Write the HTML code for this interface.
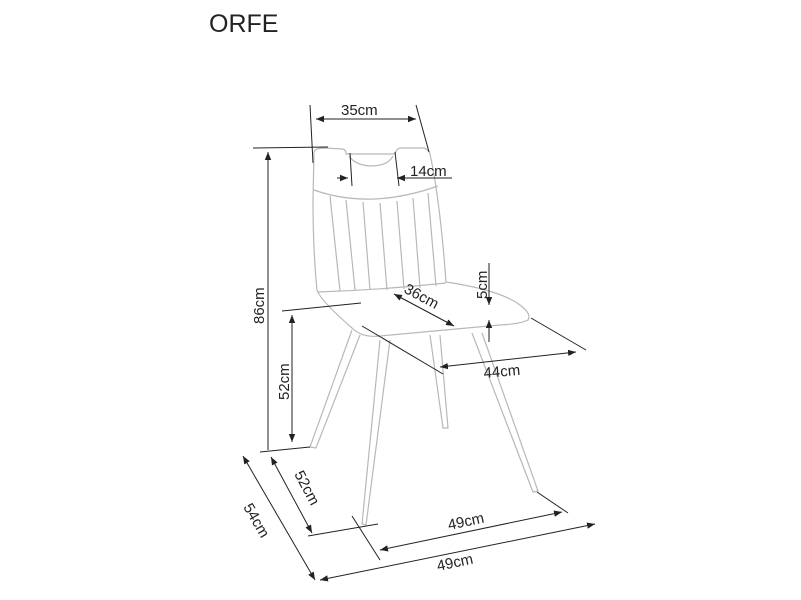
<!DOCTYPE html>
<html><head><meta charset="utf-8"><style>
html,body{margin:0;padding:0;background:#fff;}
svg{display:block;}
text{font-family:"Liberation Sans",sans-serif;fill:#222;}
</style></head><body>
<svg width="801" height="600" viewBox="0 0 801 600" xmlns="http://www.w3.org/2000/svg">
<defs>
<marker id="a" viewBox="0 0 10 10" refX="10" refY="5" markerWidth="8" markerHeight="8" orient="auto-start-reverse" markerUnits="userSpaceOnUse"><path d="M0,1 L10,5 L0,9 Z" fill="#222"/></marker>
</defs>
<text x="209" y="32" font-size="25">ORFE</text>
<g fill="none" stroke="#b8b8b8" stroke-width="1.2">
<path d="M314,152 Q315,148 325,148 L343,149 Q346,150 346,154 L395,154 Q396,149 400,148 L424,148 Q428,149 430,154 Q440,200 446,282 Q500,290 520,305 Q532,314 528,320 Q520,324 500,325 L380,336 Q362,338 352,328 Q320,300 317,290 Q313,250 313,200 Z"/>
<path d="M349,156 Q355,165 370,166 Q388,166 393,156"/>
<path d="M314,190 Q370,210 438,186"/>
<path d="M318,292 Q380,290 446,283"/>
<path d="M330,196 L340,291 M346,200 L355,290 M363,202 L370,290 M380,203 L387,290 M397,201 L404,289 M413,198 L420,288 M428,193 L436,286"/>
<path d="M352,330 L310,447 L316,448 L360,335"/>
<path d="M380,340 L362,524 L366,525 L390,340"/>
<path d="M430,335 L443,428 L448,428 L440,335"/>
<path d="M472,333 L533,492 L538,491 L482,333"/>
</g>
<g stroke="#222" stroke-width="1" fill="none">
<line x1="310" y1="105" x2="313" y2="163"/>
<line x1="416" y1="105" x2="429" y2="152"/>
<line x1="316" y1="119" x2="416" y2="119" marker-start="url(#a)" marker-end="url(#a)"/>
<line x1="337" y1="178" x2="348" y2="178" marker-end="url(#a)"/>
<line x1="452" y1="178" x2="397" y2="178" marker-end="url(#a)"/>
<line x1="350" y1="153" x2="352" y2="186"/>
<line x1="395" y1="152" x2="399" y2="186"/>
<line x1="253" y1="148" x2="328" y2="147"/>
<line x1="268" y1="450" x2="268" y2="152" marker-end="url(#a)"/>
<line x1="282" y1="311" x2="361" y2="303"/>
<line x1="292" y1="442" x2="292" y2="315" marker-start="url(#a)" marker-end="url(#a)"/>
<line x1="394" y1="294" x2="454" y2="326" marker-start="url(#a)" marker-end="url(#a)"/>
<line x1="489" y1="263" x2="489" y2="305" marker-end="url(#a)"/>
<line x1="489" y1="342" x2="489" y2="320" marker-end="url(#a)"/>
<line x1="362" y1="326" x2="443" y2="374"/>
<line x1="531" y1="318" x2="586" y2="350"/>
<line x1="440" y1="367" x2="576" y2="352" marker-start="url(#a)" marker-end="url(#a)"/>
<line x1="260" y1="452" x2="310" y2="447"/>
<line x1="308" y1="536" x2="378" y2="524"/>
<line x1="271" y1="457" x2="312" y2="533" marker-start="url(#a)" marker-end="url(#a)"/>
<line x1="243" y1="456" x2="315" y2="580" marker-start="url(#a)" marker-end="url(#a)"/>
<line x1="352" y1="516" x2="380" y2="560"/>
<line x1="537" y1="492" x2="568" y2="513"/>
<line x1="380" y1="550" x2="562" y2="512" marker-start="url(#a)" marker-end="url(#a)"/>
<line x1="320" y1="580" x2="595" y2="524" marker-start="url(#a)" marker-end="url(#a)"/>
</g>
<g font-size="15">
<text x="341" y="115">35cm</text>
<text x="410" y="176">14cm</text>
<text x="264" y="324" transform="rotate(-90 264 324)">86cm</text>
<text x="289" y="400" transform="rotate(-90 289 400)">52cm</text>
<text x="403" y="292" transform="rotate(28 403 292)">36cm</text>
<text x="487" y="299" transform="rotate(-90 487 299)">5cm</text>
<text x="484" y="378" transform="rotate(-5 484 378)">44cm</text>
<text x="294" y="474" transform="rotate(62 294 474)">52cm</text>
<text x="243" y="507" transform="rotate(60 243 507)">54cm</text>
<text x="449" y="530" transform="rotate(-12 449 530)">49cm</text>
<text x="438" y="571" transform="rotate(-12 438 571)">49cm</text>
</g>
</svg>
</body></html>
